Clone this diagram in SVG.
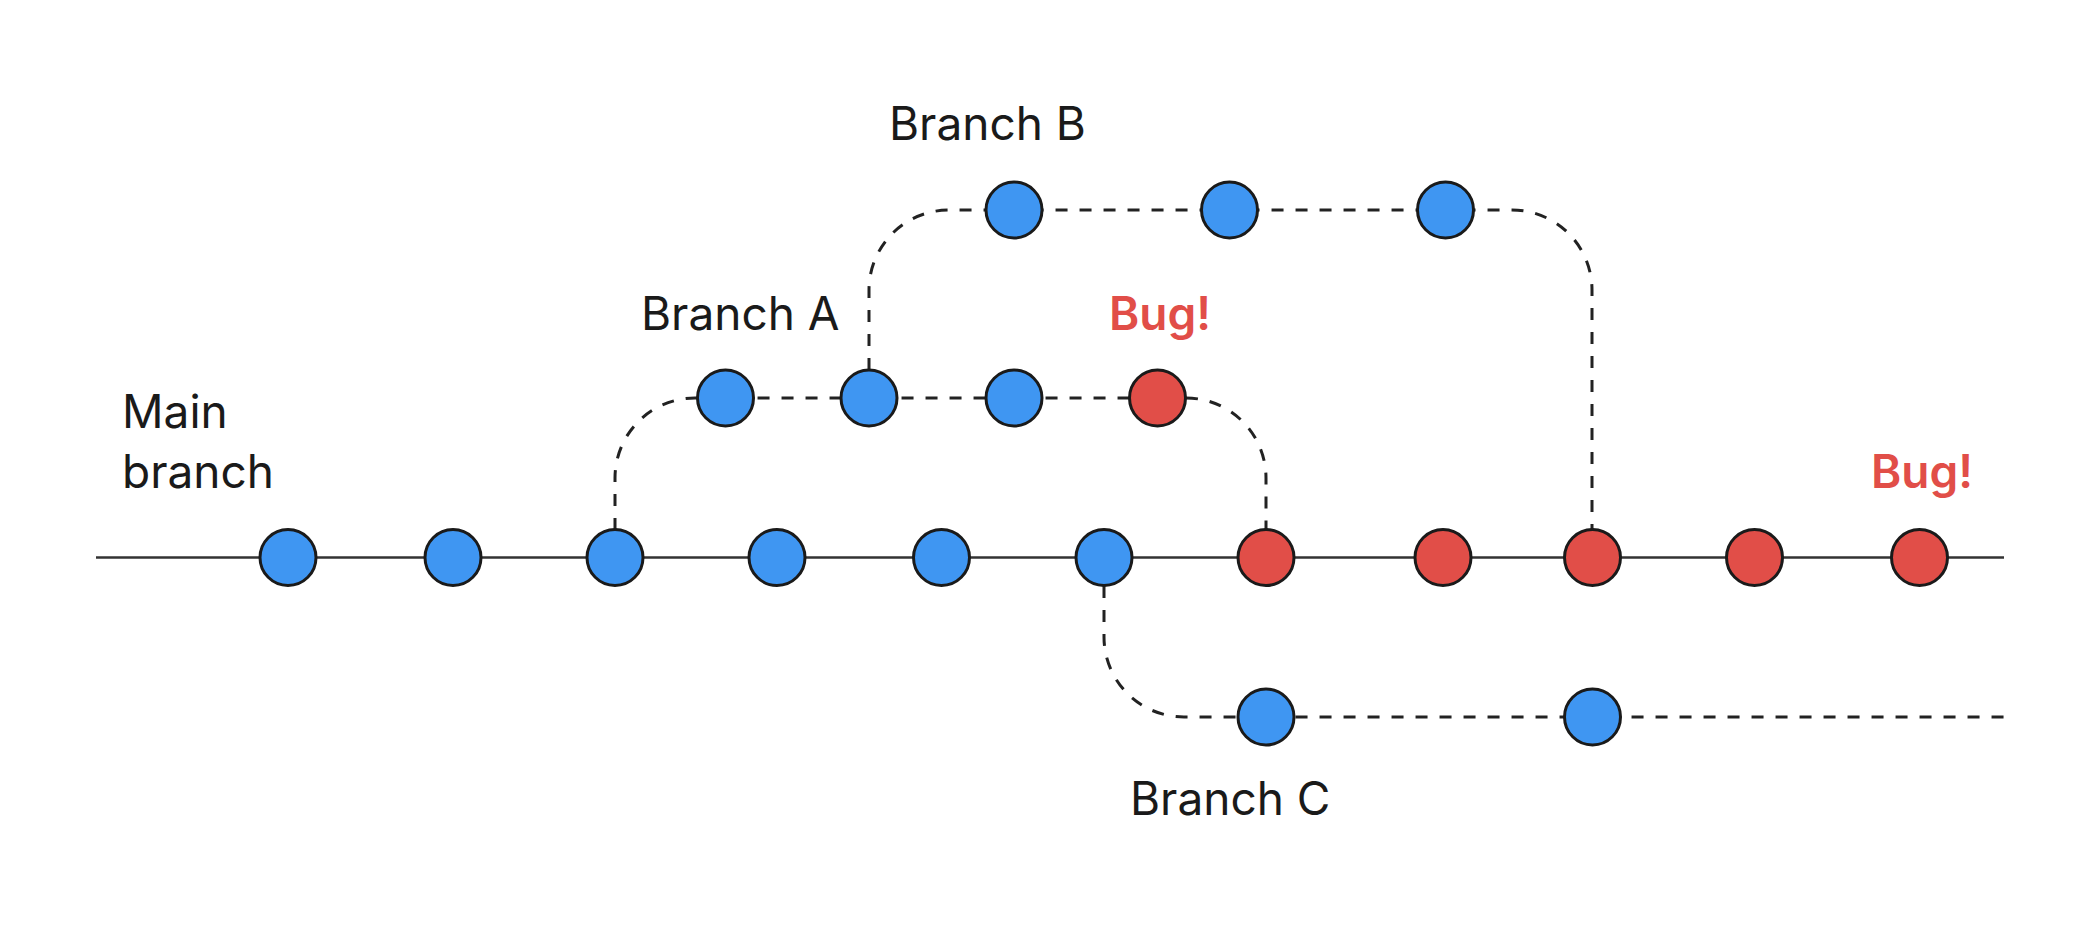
<svg xmlns="http://www.w3.org/2000/svg" width="2100" height="927" viewBox="0 0 2100 927">
<style>
.lbl{font-family:Inter,"Liberation Sans",sans-serif;font-size:46px;fill:#1a1a1a}
.bug{font-family:Inter,"Liberation Sans",sans-serif;font-size:46px;font-weight:600;fill:#E14E48}
.main{stroke:#333;stroke-width:2.6;fill:none}
.dash{stroke:#222;stroke-width:3;fill:none;stroke-dasharray:12 12}
.b{fill:#3F96F2;stroke:#1a1a1a;stroke-width:3}
.r{fill:#E14E48;stroke:#1a1a1a;stroke-width:3}
</style>
<rect width="2100" height="927" fill="#fff"/>
<g id="connectors">
<line class="main" x1="96" y1="557.5" x2="2004" y2="557.5"/>
<path class="dash" d="M615,530 V478 A80,80 0 0 1 695,398 H1157"/>
<path class="dash" d="M869,370 V290 A80,80 0 0 1 949,210 H1512 A80,80 0 0 1 1592,290 V530"/>
<path class="dash" d="M1186,398 A80,80 0 0 1 1266,478 V530"/>
<path class="dash" d="M1104,586 V637 A80,80 0 0 0 1184,717 H2004"/>
</g>
<g id="main-branch">
<circle class="b" cx="288" cy="557.5" r="28"/>
<circle class="b" cx="453" cy="557.5" r="28"/>
<circle class="b" cx="615" cy="557.5" r="28"/>
<circle class="b" cx="777" cy="557.5" r="28"/>
<circle class="b" cx="941.5" cy="557.5" r="28"/>
<circle class="b" cx="1104" cy="557.5" r="28"/>
<circle class="r" cx="1266" cy="557.5" r="28"/>
<circle class="r" cx="1443" cy="557.5" r="28"/>
<circle class="r" cx="1592.5" cy="557.5" r="28"/>
<circle class="r" cx="1754.5" cy="557.5" r="28"/>
<circle class="r" cx="1919.5" cy="557.5" r="28"/>
</g>
<g id="branch-a">
<circle class="b" cx="725.5" cy="398" r="28"/>
<circle class="b" cx="869" cy="398" r="28"/>
<circle class="b" cx="1014" cy="398" r="28"/>
<circle class="r" cx="1157.5" cy="398" r="28"/>
</g>
<g id="branch-b">
<circle class="b" cx="1014" cy="210" r="28"/>
<circle class="b" cx="1229.5" cy="210" r="28"/>
<circle class="b" cx="1445.5" cy="210" r="28"/>
</g>
<g id="branch-c">
<circle class="b" cx="1266" cy="717" r="28"/>
<circle class="b" cx="1592.5" cy="717" r="28"/>
</g>
<g id="labels">
<text class="lbl" x="122" y="428">Main</text>
<text class="lbl" x="122" y="488">branch</text>
<text class="lbl" x="641" y="330">Branch A</text>
<text class="lbl" x="889" y="140">Branch B</text>
<text class="lbl" x="1130" y="815">Branch C</text>
<text class="bug" x="1109" y="330">Bug!</text>
<text class="bug" x="1871" y="488">Bug!</text>
</g>
</svg>
